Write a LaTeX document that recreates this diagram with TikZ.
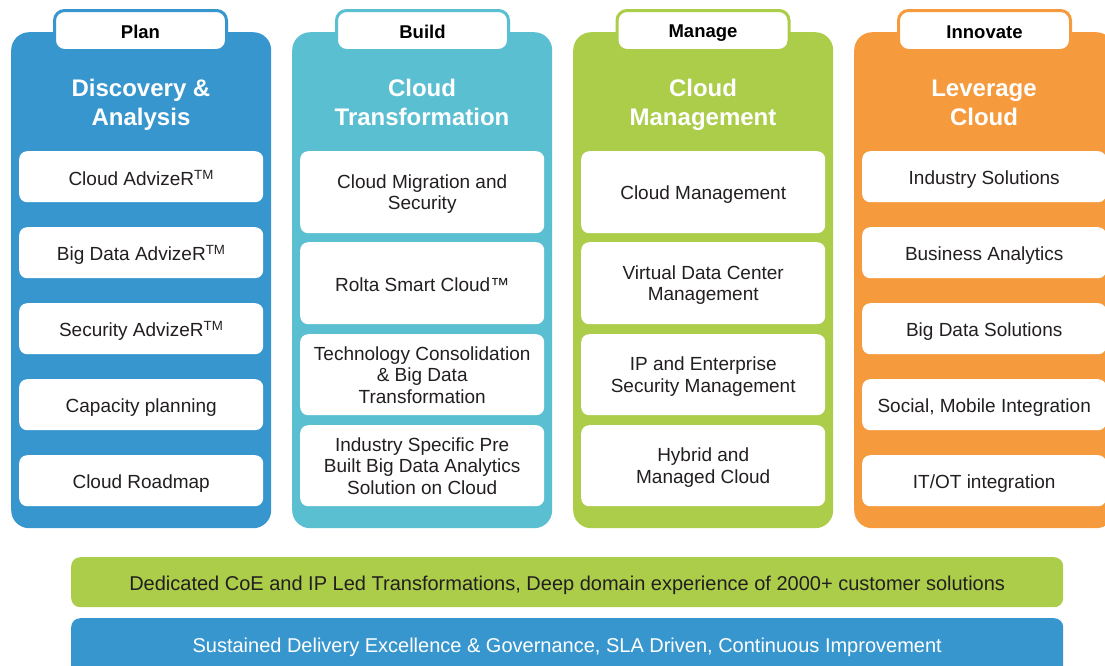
\documentclass[tikz,border=0pt]{standalone}
\usepackage{fontspec}
\setmainfont{Liberation Sans}
\definecolor{cblue}{RGB}{55,150,206}
\definecolor{cteal}{RGB}{91,191,210}
\definecolor{cgreen}{RGB}{171,205,74}
\definecolor{corange}{RGB}{245,155,61}
\definecolor{ctext}{RGB}{35,31,32}
\newcommand\ist{\rule[-3.95pt]{0pt}{21.5pt}}% item line strut (multi-line)
\newcommand\isst{\rule[-2.15pt]{0pt}{21.5pt}}% single-line item strut
\newcommand\tst{\rule[-5.65pt]{0pt}{28.5pt}}% title strut
\newcommand\tbst{\rule[-2.2pt]{0pt}{20pt}}% tab strut
\tikzset{
  col/.style={rounded corners=18pt, minimum width=260pt, minimum height=496pt, anchor=north west, inner sep=0pt},
  tab/.style={rounded corners=10pt, fill=white, line width=3pt, minimum width=172pt, minimum height=40pt, inner sep=0pt,
    font=\fontsize{18.5}{20}\selectfont\bfseries, text=black},
  ttl/.style={align=center, text=white, inner sep=0pt, font=\fontsize{24}{28.5}\selectfont\bfseries},
  itembox/.style={rounded corners=8pt, fill=white, minimum width=244pt, anchor=north west, inner sep=0pt,
    align=center, text=ctext, font=\fontsize{19}{21.5}\selectfont},
  bar/.style={rounded corners=9pt, minimum width=992pt, anchor=north west, inner sep=0pt, font=\fontsize{20}{24}\selectfont}
}
\begin{document}
\begin{tikzpicture}[x=1pt,y=-1pt]
\useasboundingbox (0,0) rectangle (1105,665);
\clip (0,0) rectangle (1105,665);
% columns
\node[col, fill=cblue] (c1) at (11,32) {};
\node[col, fill=cteal] (c2) at (292,32) {};
\node[col, fill=cgreen] (c3) at (573,32) {};
\node[col, fill=corange] (c4) at (854,32) {};
% tabs
\node[tab, draw=cblue] (t1) at (140.5,30.5) {\tbst Plan};
\node[tab, draw=cteal] (t2) at (422.5,30.5) {\tbst Build};
\node[tab, draw=cgreen] (t3) at (703,30.5) {\tbst Manage};
\node[tab, draw=corange] (t4) at (984.5,30.5) {\tbst Innovate};
% titles
\node[ttl] (h1) at (141,102.5) {\tst Discovery \&\\\tst Analysis};
\node[ttl] (h2) at (422,102.5) {\tst Cloud\\\tst Transformation};
\node[ttl] (h3) at (703,102.5) {\tst Cloud\\\tst Management};
\node[ttl] (h4) at (984,102.5) {\tst Leverage\\\tst Cloud};
% column 1
\node[itembox, minimum height=51pt] (a1) at (19,151) {\isst Cloud AdvizeR\textsuperscript{TM}};
\node[itembox, minimum height=51pt] (a2) at (19,227) {\isst Big Data AdvizeR\textsuperscript{TM}};
\node[itembox, minimum height=51pt] (a3) at (19,303) {\isst Security AdvizeR\textsuperscript{TM}};
\node[itembox, minimum height=51pt] (a4) at (19,379) {\isst Capacity planning};
\node[itembox, minimum height=51pt] (a5) at (19,455) {\isst Cloud Roadmap};
% column 2
\node[itembox, minimum height=82pt] (b1) at (300,151) {\ist Cloud Migration and\\\ist Security};
\node[itembox, minimum height=82pt] (b2) at (300,242) {\isst Rolta Smart Cloud™};
\node[itembox, minimum height=81pt] (b3) at (300,334) {\ist Technology Consolidation\\\ist \& Big Data\\\ist Transformation};
\node[itembox, minimum height=81pt] (b4) at (300,425) {\ist Industry Specific Pre\\\ist Built Big Data Analytics\\\ist Solution on Cloud};
% column 3
\node[itembox, minimum height=82pt] (m1) at (581,151) {\isst Cloud Management};
\node[itembox, minimum height=82pt] (m2) at (581,242) {\ist Virtual Data Center\\\ist Management};
\node[itembox, minimum height=81pt] (m3) at (581,334) {\ist IP and Enterprise\\\ist Security Management};
\node[itembox, minimum height=81pt] (m4) at (581,425) {\ist Hybrid and\\\ist Managed Cloud};
% column 4
\node[itembox, minimum height=51pt] (i1) at (862,151) {\isst Industry Solutions};
\node[itembox, minimum height=51pt] (i2) at (862,227) {\isst Business Analytics};
\node[itembox, minimum height=51pt] (i3) at (862,303) {\isst Big Data Solutions};
\node[itembox, minimum height=51pt] (i4) at (862,379) {\isst Social, Mobile Integration};
\node[itembox, minimum height=51pt] (i5) at (862,455) {\isst IT/OT integration};
% bottom bars
\node[bar, fill=cgreen, minimum height=50pt, text=ctext] (g) at (71,557) {\rule[-2.8pt]{0pt}{24pt}Dedicated CoE and IP Led Transformations, Deep domain experience of 2000+ customer solutions};
\node[bar, fill=cblue, minimum height=60pt, text=white] (s) at (71,618) {\rule[-7.8pt]{0pt}{24pt}Sustained Delivery Excellence \& Governance, SLA Driven, Continuous Improvement};
\end{tikzpicture}
\end{document}
